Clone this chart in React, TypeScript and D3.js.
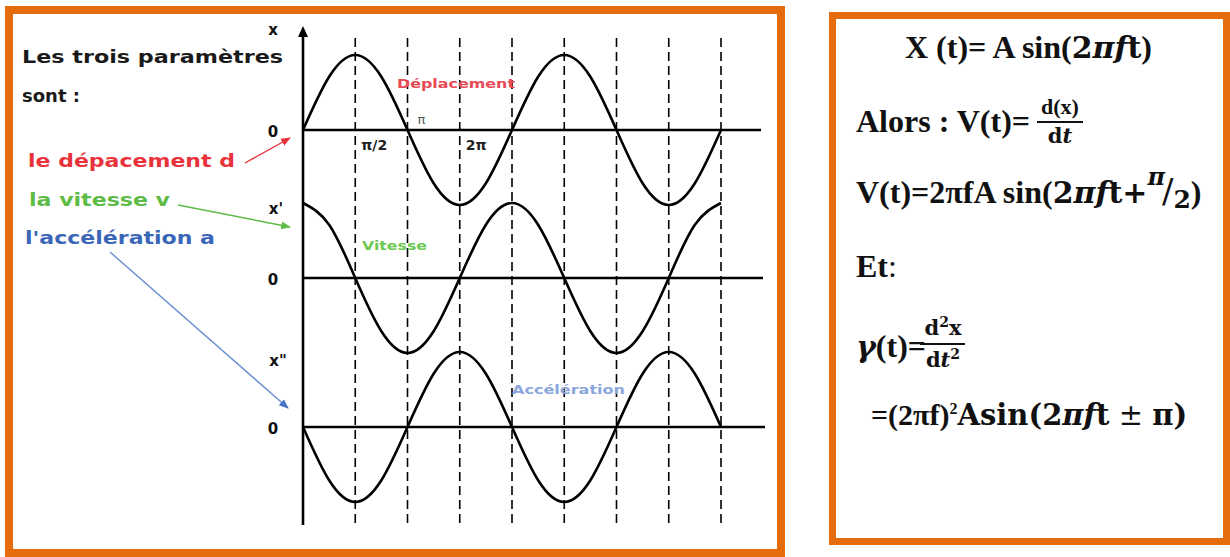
import React from 'react';
import * as d3 from 'd3';

// phase in quarter-periods (dashed gridlines sit on integers)
const phase = [0, 0.5, 1, 1.5, 2, 2.5, 3, 3.5, 4, 4.5, 5, 5.5, 6, 6.5, 7, 7.5, 8];
const deplacement = [0, 0.71, 1, 0.71, 0, -0.71, -1, -0.71, 0, 0.71, 1, 0.71, 0, -0.71, -1, -0.71, 0];
const vitesse = [1, 0.71, 0, -0.71, -1, -0.71, 0, 0.71, 1, 0.71, 0, -0.71, -1, -0.71, 0, 0.71, 1];
const acceleration = [0, -0.71, -1, -0.71, 0, 0.71, 1, 0.71, 0, -0.71, -1, -0.71, 0, 0.71, 1, 0.71, 0];
const gridPhases = [1, 2, 3, 4, 5, 6, 7, 8];
const tickLabels = [
  { p: 1, label: 'π/2' },
  { p: 3, label: '2π' },
];
const panels = [
  { key: 'd', axisLabel: 'x', values: deplacement },
  { key: 'v', axisLabel: "x'", values: vitesse },
  { key: 'a', axisLabel: 'x"', values: acceleration },
];

const ORANGE = '#e46c0a';
const SANS = "'DejaVu Sans', Verdana, sans-serif";
const SERIF = "'Liberation Serif', 'Times New Roman', serif";
const MATH = "'DejaVu Serif', 'Liberation Serif', serif";

export default function App() {
  const x = d3.scaleLinear().domain([0, 8]).range([303, 721]);
  const zeros = [130, 278, 427];
  const amp = 75;
  const ys = zeros.map((z) => d3.scaleLinear().domain([-1, 1]).range([z + amp, z - amp]));
  const makeLine = (yy: d3.ScaleLinear<number, number>) =>
    d3
      .line<number>()
      .x((_, i) => x(phase[i]))
      .y((v) => yy(v))
      .curve(d3.curveNatural);

  return (
    <svg width={1230} height={557} style={{ position: 'absolute', left: 0, top: 0, background: '#fff' }}>
      <defs>
        <marker id="mr" viewBox="0 0 10 10" refX="9" refY="5" markerWidth="7" markerHeight="7" orient="auto">
          <path d="M0,1 L10,5 L0,9 z" fill="#e8333d" />
        </marker>
        <marker id="mg" viewBox="0 0 10 10" refX="9" refY="5" markerWidth="7" markerHeight="7" orient="auto">
          <path d="M0,1 L10,5 L0,9 z" fill="#5dbb46" />
        </marker>
        <marker id="mb" viewBox="0 0 10 10" refX="9" refY="5" markerWidth="7" markerHeight="7" orient="auto">
          <path d="M0,1 L10,5 L0,9 z" fill="#4a72c4" />
        </marker>
      </defs>

      {/* boxes */}
      <rect x={9} y={10} width={772} height={543} fill="#fff" stroke={ORANGE} strokeWidth={8} />
      <rect x={832.5} y={15.5} width={394} height={526} fill="#fff" stroke={ORANGE} strokeWidth={7} />

      {/* dashed grid */}
      {gridPhases.map((p) => (
        <line key={p} x1={x(p)} x2={x(p)} y1={38} y2={526} stroke="#000" strokeWidth={1.6} strokeDasharray="9,5" />
      ))}

      {/* vertical axis */}
      <line x1={x(0)} x2={x(0)} y1={32} y2={525} stroke="#000" strokeWidth={2.6} />
      <path d={`M${x(0)},26 L${x(0) - 5},37 L${x(0) + 5},37 z`} fill="#000" />

      {/* horizontal zero lines */}
      {zeros.map((z, i) => (
        <line key={i} x1={x(0)} x2={761 + i * 2} y1={z} y2={z} stroke="#000" strokeWidth={2.4} />
      ))}

      {/* curves */}
      {panels.map((pn, i) => (
        <path key={pn.key} d={makeLine(ys[i])(pn.values) || ''} fill="none" stroke="#000" strokeWidth={2.6} />
      ))}

      {/* axis labels */}
      <g fontFamily={SANS} fontWeight="bold" fontSize={15} fill="#111" textAnchor="middle">
        <text x={273} y={35}>x</text>
        <text x={273} y={137}>0</text>
        <text x={276} y={214}>x'</text>
        <text x={273} y={285}>0</text>
        <text x={278} y={366}>x"</text>
        <text x={273} y={434}>0</text>
      </g>

      {/* tick labels */}
      <g fontFamily={SANS} fontWeight="bold" fontSize={14} fill="#222">
        {tickLabels.map((t) => (
          <text key={t.label} x={x(t.p) + 6} y={150}>{t.label}</text>
        ))}
        <text x={x(2) + 10} y={124} fontSize={13} fontWeight="normal" fill="#555">π</text>
      </g>

      {/* curve names */}
      <g fontFamily={SANS} fontWeight="bold" fontSize={12.5}>
        <text x={397} y={88} fill="#e84a55" textLength={118} lengthAdjust="spacingAndGlyphs">Déplacement</text>
        <text x={362} y={250} fill="#6cc94f" textLength={65} lengthAdjust="spacingAndGlyphs">Vitesse</text>
        <text x={512} y={394} fill="#8ba6dc" textLength={113} lengthAdjust="spacingAndGlyphs">Accélération</text>
      </g>

      {/* left text */}
      <g fontFamily={SANS} fontWeight="bold" fontSize={18}>
        <text x={22} y={63} fill="#1a1a1a" textLength={261} lengthAdjust="spacingAndGlyphs">Les trois paramètres</text>
        <text x={22} y={102} fill="#1a1a1a">sont :</text>
        <text x={28} y={167} fill="#e8333d" textLength={207} lengthAdjust="spacingAndGlyphs">le dépacement d</text>
        <text x={29} y={206} fill="#5dbb46" textLength={141} lengthAdjust="spacingAndGlyphs">la vitesse v</text>
        <text x={25} y={244} fill="#3a66b8" textLength={190} lengthAdjust="spacingAndGlyphs">l'accélération a</text>
      </g>

      {/* arrows */}
      <line x1={245} y1={163} x2={290} y2={138} stroke="#e8333d" strokeWidth={1.4} markerEnd="url(#mr)" />
      <line x1={178} y1={205} x2={290} y2={227} stroke="#5dbb46" strokeWidth={1.4} markerEnd="url(#mg)" />
      <line x1={110} y1={252} x2={288} y2={408} stroke="#6a8fd0" strokeWidth={1.4} markerEnd="url(#mb)" />

      {/* right panel formulas */}
      <g fontFamily={SERIF} fontWeight="bold" fill="#111">
        <text x={905} y={58} fontSize={32}>
          X (t)= A sin(<tspan fontFamily={MATH} fontSize={30}>2</tspan>
          <tspan fontFamily={MATH} fontStyle="italic" fontSize={30}>πf</tspan>
          <tspan fontFamily={MATH} fontSize={30}>t</tspan>)
        </text>

        <text x={856} y={132} fontSize={32}>Alors : V(t)=</text>
        <text x={1060} y={114} fontSize={22} textAnchor="middle">d(x)</text>
        <line x1={1037} x2={1083} y1={122} y2={122} stroke="#111" strokeWidth={2} />
        <text x={1060} y={143} fontSize={21} textAnchor="middle" fontFamily={MATH}>
          d<tspan fontStyle="italic">t</tspan>
        </text>

        <text x={856} y={203} fontSize={32}>
          V(t)=2πfA sin(<tspan fontFamily={MATH} fontSize={30}>2</tspan>
          <tspan fontFamily={MATH} fontStyle="italic" fontSize={30}>πf</tspan>
          <tspan fontFamily={MATH} fontSize={30}>t+</tspan>
          <tspan fontFamily={MATH} fontStyle="italic" fontSize={24} dy={-18}>π</tspan>
          <tspan fontFamily={MATH} fontWeight="normal" fontSize={34} dx={-3} dy={18}>/</tspan>
          <tspan fontFamily={MATH} fontSize={25} dy={5}>2</tspan>
          <tspan dy={-5}>)</tspan>
        </text>

        <text x={856} y={277} fontSize={32}>Et<tspan fontWeight="normal">:</tspan></text>

        <text x={856} y={357} fontSize={32}>
          <tspan fontFamily={MATH} fontStyle="italic" fontSize={30}>γ</tspan>(t)=
        </text>
        <text x={943} y={335} fontSize={21} textAnchor="middle" fontFamily={MATH}>
          d<tspan fontSize={14} dy={-8}>2</tspan><tspan dy={8}>x</tspan>
        </text>
        <line x1={920} x2={965} y1={344} y2={344} stroke="#111" strokeWidth={2} />
        <text x={943} y={367} fontSize={21} textAnchor="middle" fontFamily={MATH}>
          d<tspan fontStyle="italic">t</tspan><tspan fontSize={14} dy={-8}>2</tspan>
        </text>

        <text x={871} y={425} fontSize={30}>
          =(2πf)<tspan fontSize={16} dy={-11}>2</tspan>
          <tspan dy={11} fontFamily={MATH} fontSize={29}>Asin(2</tspan>
          <tspan fontFamily={MATH} fontStyle="italic" fontSize={29}>πf</tspan>
          <tspan fontFamily={MATH} fontSize={29}>t</tspan>
          <tspan fontFamily={MATH} fontSize={29} fontWeight="normal"> ± </tspan>
          <tspan fontFamily={MATH} fontSize={29}>π)</tspan>
        </text>
      </g>
    </svg>
  );
}
